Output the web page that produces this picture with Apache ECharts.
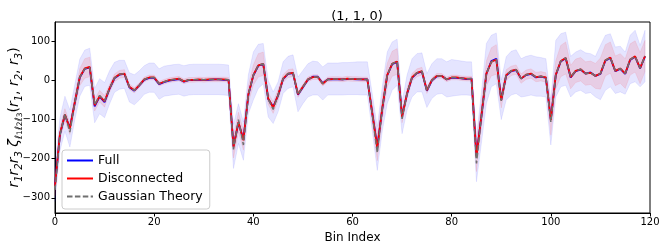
<!DOCTYPE html>
<html>
<head>
<meta charset="utf-8">
<script src="https://cdn.jsdelivr.net/npm/echarts@6/dist/echarts.min.js"></script>
<style>html,body{margin:0;padding:0;background:#fff}#c{width:664px;height:250px}</style>
</head>
<body>
<div id="c"></div>
<script>
// ---- data ----
const binCount = 120;
const xTicks = [0, 20, 40, 60, 80, 100, 120];
const yTicks = [-300, -200, -100, 0, 100];

const disconnected = [
  -270, -136, -87, -123, -55, 9, 31, 35, -63, -40,
  -53, -20, 7, 16, 18, -16, -25, -12, 3, 8,
  8, -8, -3, 1, 3, 5, -2, 2, 2, 3,
  2, 3, 3, 3, 3, 2, -170, -106, -153, -35,
  14, 39, 43, -46, -69, -37, 5, 18, 20, -35,
  -16, 3, 9, 9, -8, 3, 4, 4, 3, 5,
  4, 4, 3, 3, -85, -172, -72, 14, 43, 49,
  -93, -33, 8, 20, 24, -25, 1, 12, 12, 3,
  8, 8, 6, 5, 5, -195, -90, 18, 48, 54,
  -50, 14, 25, 28, 5, 15, 18, 9, 11, 8,
  -101, 15, 50, 58, 9, 25, 29, 18, 20, 12,
  18, 52, 59, 25, 31, 18, 54, 62, 32, 63
];
const full = [
  -268, -138, -88, -121, -56, 8, 30, 34, -66, -41,
  -55, -21, 6, 15, 17, -17, -26, -12, 2, 7,
  7, -9, -4, 0, 2, 4, -3, 1, 1, 2,
  2, 2, 3, 3, 2, 2, -168, -108, -151, -36,
  13, 38, 42, -47, -67, -38, 4, 17, 19, -36,
  -17, 2, 10, 10, -7, 3, 4, 3, 3, 4,
  4, 3, 3, 3, -84, -170, -73, 13, 42, 48,
  -91, -34, 7, 19, 23, -26, 0, 11, 12, 3,
  7, 7, 6, 4, 5, -192, -91, 17, 50, 56,
  -49, 13, 24, 27, 5, 14, 17, 8, 10, 7,
  -99, 14, 49, 57, 8, 24, 28, 18, 21, 12,
  17, 51, 58, 24, 30, 17, 53, 61, 31, 62
];
const gaussian = [
  -280, -140, -85, -132, -56, 9, 30, 34, -62, -38,
  -52, -20, 7, 16, 18, -16, -25, -12, 3, 8,
  8, -8, -3, 1, 3, 5, -2, 2, 2, 3,
  2, 3, 3, 3, 3, 2, -176, -100, -165, -36,
  14, 39, 43, -47, -74, -37, 5, 18, 20, -36,
  -16, 3, 9, 9, -8, 3, 4, 4, 3, 5,
  4, 4, 3, 3, -88, -185, -72, 14, 43, 49,
  -98, -33, 8, 20, 24, -26, 1, 12, 12, 3,
  8, 8, 6, 5, 5, -212, -92, 18, 48, 54,
  -52, 14, 25, 28, 5, 15, 18, 9, 11, 8,
  -106, 15, 50, 58, 9, 25, 29, 18, 20, 12,
  18, 52, 59, 25, 31, 18, 54, 62, 32, 63
];
// Gaussian theory band (upper / lower edges)
const blueUpper = [
  -215, -95, -40, -75, -10, 55, 78, 83, -20, 5,
  -5, 25, 47, 52, 52, 20, 15, 25, 38, 45,
  45, 30, 37, 39, 41, 42, 38, 41, 42, 42,
  42, 42, 42, 42, 41, 40, -112, -59, -106, 15,
  73, 93, 95, 1, -29, -3, 48, 62, 66, 9,
  26, 43, 50, 48, 35, 45, 45, 45, 46, 46,
  47, 48, 48, 48, -35, -118, -16, 73, 99, 106,
  -55, 14, 56, 69, 71, 18, 43, 56, 56, 48,
  54, 52, 50, 48, 48, -144, -30, 95, 116, 122,
  1, 61, 75, 79, 56, 62, 65, 61, 59, 56,
  -50, 103, 120, 124, 62, 73, 79, 71, 69, 62,
  90, 116, 120, 86, 88, 73, 116, 129, 90, 129
];
const blueLower = [
  -310, -180, -130, -170, -100, -40, -15, -12, -108, -85,
  -95, -60, -30, -22, -20, -55, -62, -50, -35, -30,
  -30, -48, -40, -38, -36, -35, -40, -37, -36, -36,
  -36, -36, -36, -36, -37, -38, -225, -161, -204, -85,
  -50, -20, -8, -93, -110, -80, -33, -20, -16, -80,
  -59, -42, -37, -37, -50, -37, -37, -37, -37, -36,
  -36, -36, -37, -37, -130, -230, -130, -59, -25, -12,
  -136, -76, -42, -29, -29, -69, -46, -35, -33, -42,
  -40, -38, -37, -37, -38, -259, -160, -59, -16, -8,
  -100, -50, -37, -33, -42, -40, -37, -40, -40, -42,
  -165, -42, -16, -12, -42, -29, -25, -33, -31, -42,
  -49, -25, -16, -33, -29, -35, -8, -3, -16, -3
];
// Disconnected band half-width
const redHalf = [
  25, 16, 15, 15, 18, 22, 25, 25, 15, 15,
  15, 10, 10, 10, 10, 7, 7, 6, 6, 6,
  6, 6, 6, 6, 6, 6, 6, 6, 6, 6,
  6, 6, 6, 6, 6, 6, 28, 25, 25, 22,
  26, 30, 30, 15, 15, 14, 10, 10, 10, 8,
  6, 6, 6, 6, 6, 6, 6, 6, 6, 6,
  6, 6, 6, 6, 25, 33, 30, 30, 32, 33,
  15, 14, 10, 10, 10, 8, 6, 6, 6, 6,
  6, 6, 6, 6, 6, 38, 32, 32, 36, 38,
  20, 14, 12, 12, 12, 12, 12, 12, 12, 12,
  39, 36, 40, 41, 30, 30, 30, 30, 30, 32,
  40, 40, 40, 38, 38, 38, 40, 40, 40, 40
];
// ---- end data ----

const bins = Array.from({length: binCount}, (_, i) => i);
const blueBand = bins.map(i => [i, blueLower[i], blueUpper[i]]);
const redBand = bins.map(i => [i, disconnected[i] - redHalf[i], disconnected[i] + redHalf[i]]);

function bandRender(fill, stroke) {
  return function (params, api) {
    if (params.dataIndexInside !== 0) return null;
    const n = params.dataInsideLength;
    const top = [], bot = [];
    for (let j = 0; j < n; j++) {
      const x = api.value(0, j);
      bot.push(api.coord([x, api.value(1, j)]));
      top.push(api.coord([x, api.value(2, j)]));
    }
    const pts = bot.concat(top.reverse());
    return {
      type: 'polygon',
      shape: { points: pts },
      style: { fill: fill, stroke: stroke, lineWidth: 1 }
    };
  };
}

const minus = v => String(v).replace('-', '\u2212');
const chart = echarts.init(document.getElementById('c'), null, { renderer: 'canvas' });
const F = 'DejaVu Sans';

chart.setOption({
  animation: false,
  backgroundColor: '#fff',
  title: {
    text: '(1, 1, 0)',
    left: 352, top: 5, textAlign: 'center',
    textStyle: { fontFamily: F, fontSize: 13, fontWeight: 'normal', color: '#000' }
  },
  grid: { left: 55, right: 14, top: 22, bottom: 37, show: true, borderColor: '#000', borderWidth: 1, outerBoundsMode: 'none', containLabel: false },
  legend: {
    orient: 'vertical', left: 62, top: 150,
    itemWidth: 26, itemHeight: 12, itemGap: 5, itemTextGap: 9,
    padding: [4, 7, 6, 4],
    borderColor: '#cccccc', borderWidth: 1, borderRadius: 3,
    backgroundColor: 'rgba(255,255,255,0.85)',
    itemStyle: { opacity: 0 },
    textStyle: { fontFamily: F, fontSize: 12.5, color: '#000' },
    data: ['Full', 'Disconnected', 'Gaussian Theory']
  },
  xAxis: {
    type: 'value', min: 0, max: 120, interval: 20,
    name: 'Bin Index', nameLocation: 'middle', nameGap: 19, nameMoveOverlap: false,
    nameTextStyle: { fontFamily: F, fontSize: 12, color: '#000' },
    axisLine: { show: true, onZero: false, lineStyle: { color: '#000', width: 1 } },
    axisTick: { show: true, length: 3.5, lineStyle: { color: '#000' } },
    axisLabel: { fontFamily: F, fontSize: 10, color: '#000', margin: 4 },
    splitLine: { show: false }
  },
  yAxis: {
    type: 'value', min: -339, max: 150,
    name: '{i|r}{s|1}{i|r}{s|2}{i|r}{s|3} {i|ζ}{s|ℓ}{t|1}{s|ℓ}{t|2}{s|ℓ}{t|3}{n|(}{i|r}{s|1}{n|, }{i|r}{s|2}{n|, }{i|r}{s|3}{n|)}',
    nameLocation: 'middle', nameGap: 31, nameRotate: 90, nameMoveOverlap: false,
    nameTextStyle: {
      fontFamily: F, fontSize: 14, color: '#000',
      rich: {
        i: { fontFamily: F, fontStyle: 'italic', fontSize: 14, lineHeight: 19, color: '#000' },
        n: { fontFamily: F, fontSize: 14, lineHeight: 19, color: '#000' },
        s: { fontFamily: F, fontStyle: 'italic', fontSize: 10, verticalAlign: 'bottom', lineHeight: 10, color: '#000' },
        t: { fontFamily: F, fontSize: 7.5, verticalAlign: 'bottom', lineHeight: 7, color: '#000' }
      }
    },
    axisLine: { show: true, onZero: false, lineStyle: { color: '#000', width: 1 } },
    axisTick: { show: true, length: 3.5, customValues: yTicks, lineStyle: { color: '#000' } },
    axisLabel: { fontFamily: F, fontSize: 10, color: '#000', margin: 5, customValues: yTicks, formatter: minus },
    splitLine: { show: false }
  },
  series: [
    { type: 'custom', name: 'gband', data: blueBand, renderItem: bandRender('rgba(0,0,255,0.1)', 'rgba(0,0,255,0.08)'), silent: true, z: 1, encode: { x: 0, y: [1, 2] } },
    { type: 'custom', name: 'dband', data: redBand, renderItem: bandRender('rgba(255,0,0,0.1)', 'rgba(255,0,0,0.08)'), silent: true, z: 2, encode: { x: 0, y: [1, 2] } },
    { type: 'line', name: 'Full', data: bins.map(i => [i, full[i]]), symbol: 'none', z: 3,
      lineStyle: { color: '#0000ff', width: 1.8 }, itemStyle: { color: '#0000ff' } },
    { type: 'line', name: 'Disconnected', data: bins.map(i => [i, disconnected[i]]), symbol: 'none', z: 4,
      lineStyle: { color: '#ff0000', width: 1.8 }, itemStyle: { color: '#ff0000' } },
    { type: 'line', name: 'Gaussian Theory', data: bins.map(i => [i, gaussian[i]]), symbol: 'none', z: 5,
      lineStyle: { color: '#707070', width: 1.5, type: [5.5, 2.4] }, itemStyle: { color: '#707070' } }
  ]
});
</script>
</body>
</html>
